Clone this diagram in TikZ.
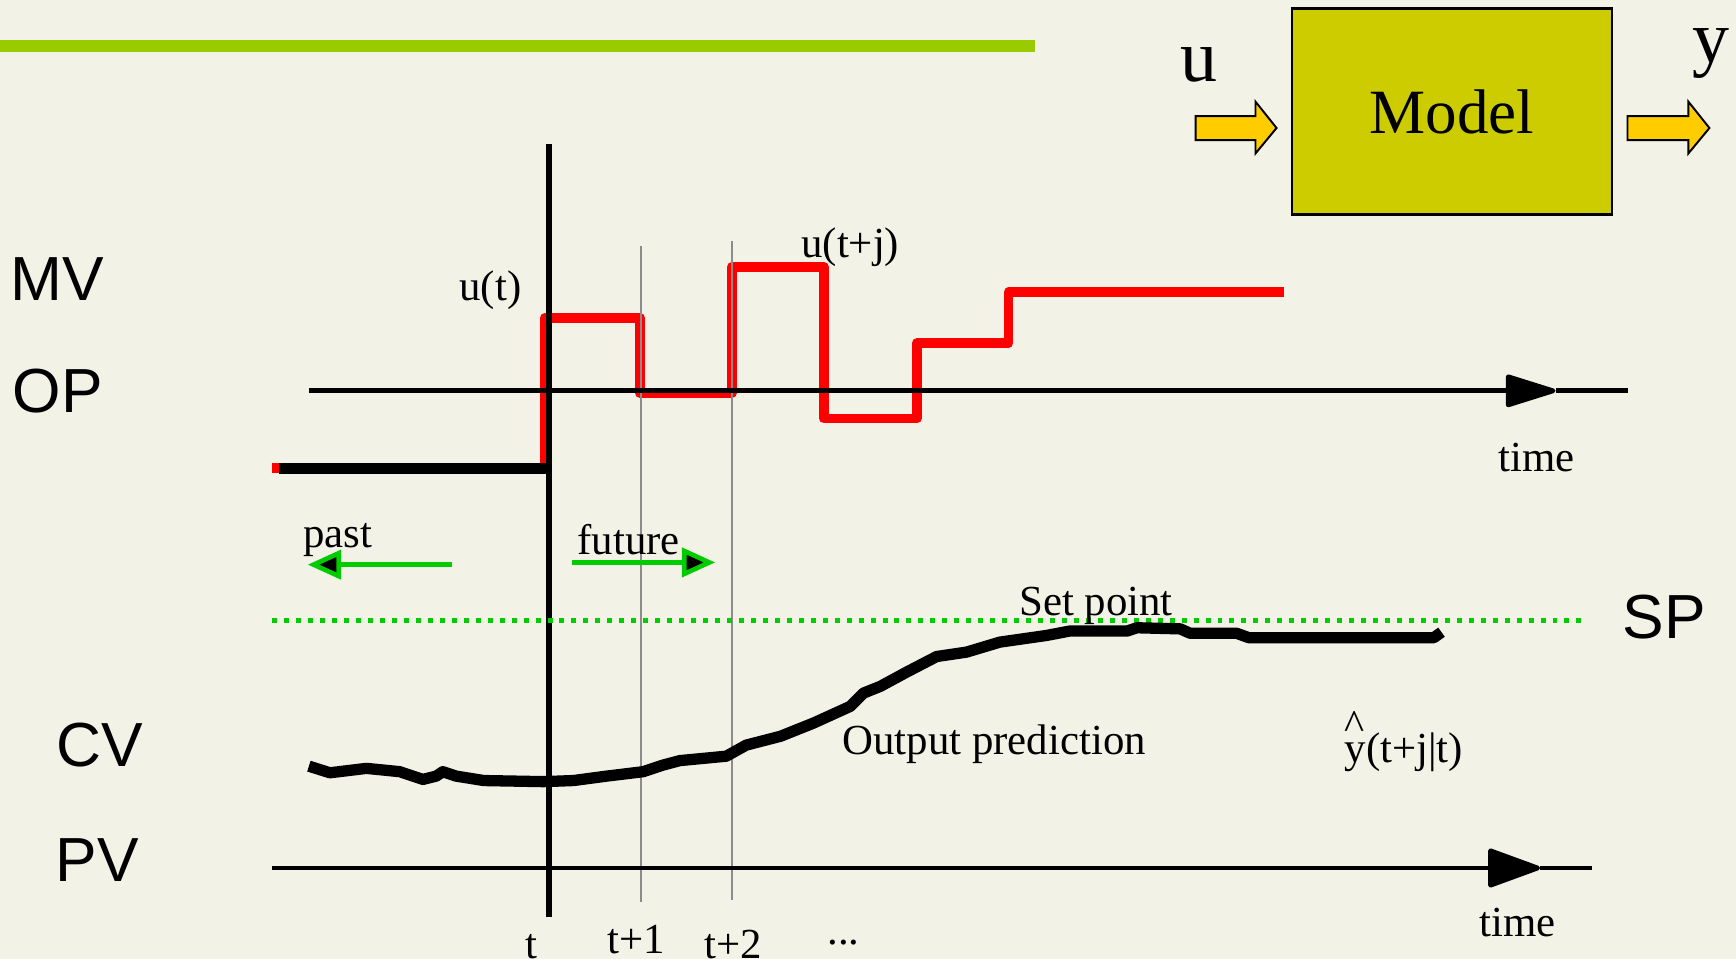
\documentclass[tikz,border=0pt]{standalone}
\usepackage{fontspec}
\setmainfont{Liberation Serif}
\setsansfont{Liberation Sans}
\usetikzlibrary{arrows.meta, positioning}
\definecolor{paperbg}{HTML}{F2F2E6}
\definecolor{barlime}{HTML}{99CC00}
\definecolor{modelfill}{HTML}{CCCC00}
\definecolor{arrowgold}{HTML}{FFCC00}
\definecolor{mvred}{HTML}{FF0000}
\definecolor{spgreen}{HTML}{00CC00}
\definecolor{gridgray}{HTML}{8C8C8C}
\tikzset{
  varlabel/.style={font=\sffamily\fontsize{16}{19}\selectfont, inner sep=0pt},
  txt/.style={font=\fontsize{11}{13}\selectfont, inner sep=0pt},
  sigtxt/.style={font=\fontsize{19}{22}\selectfont, inner sep=0pt},
  modelbox/.style={rectangle, draw=black, line width=0.7pt, fill=modelfill,
    minimum width=2.89cm, minimum height=1.86cm, inner sep=0pt,
    font=\fontsize{16.2}{19}\selectfont},
  blockarrow/.style={draw=black, line width=0.5pt, fill=arrowgold},
  axisline/.style={line width=1.2pt},
  opaxis/.style={axisline, -{Triangle[length=0.5cm, width=0.3cm, round]}},
  pvaxis/.style={axisline, -{Triangle[length=0.51cm, width=0.36cm, round]}},
  tline/.style={line width=1.4pt},
  gridline/.style={gridgray, line width=0.4pt},
  mvline/.style={mvred, line width=2.5pt, line join=round},
  pastbar/.style={black, line width=2.7pt},
  cvline/.style={black, line width=2.9pt, line join=round},
  spline/.style={spgreen, line width=0.45mm, dash pattern=on 0.45mm off 0.63mm},
  timear/.style={spgreen, line width=1.2pt,
    -{Triangle[length=3mm, width=2.6mm, fill=black]}},
}

\begin{document}
\begin{tikzpicture}[x=0.01cm, y=-0.01cm]

  % --- Hintergrund ---
  \fill[paperbg] (0,0) rectangle (1568,866);
  \useasboundingbox (0,0) rectangle (1568,866);
  \draw[barlime, line width=3.1pt] (0,41.5) -- (935,41.5);

  % --- Modellblock ---
  \node[modelbox] (model) at (1311.5,101) {Model};
  \fill[blockarrow] (1080,104.8) -- (1134,104.8) -- (1134,91.8) -- (1153,115.6)
    -- (1134,138.6) -- (1134,126.5) -- (1080,126.5) -- cycle;
  \fill[blockarrow] (1470,104.8) -- (1525,104.8) -- (1525,91.8) -- (1544,115.6)
    -- (1525,138.6) -- (1525,126.5) -- (1470,126.5) -- cycle;
  \node[sigtxt] (ulabel) at (1083,59) {u};
  \node[sigtxt] (ylabel) at (1545,48) {y};

  % --- Stellgroesse (rot) ---
  \draw[mvline] (246,423) -- (492,423) -- (492,287) -- (578,287) -- (578,355)
    -- (661,355) -- (661,241) -- (744,241) -- (744,378) -- (828,378)
    -- (828,310) -- (911,310) -- (911,264) -- (1160,264);
  \draw[pastbar] (252,423) -- (496,423);

  % --- Raster t+1, t+2 ---
  \draw[gridline] (579,222) -- (579,815);
  \draw[gridline] (661,218) -- (661,813);

  % --- Achsen ---
  \coordinate (opstart) at (279,353);
  \coordinate (optip)   at (1405,353);
  \coordinate (opend)   at (1470,353);
  \draw[opaxis] (opstart) -- (optip);
  \draw[axisline] (optip) -- (opend);
  \coordinate (pvstart) at (246,784);
  \coordinate (pvtip)   at (1391,784);
  \coordinate (pvend)   at (1438,784);
  \draw[pvaxis] (pvstart) -- (pvtip);
  \draw[axisline] (pvtip) -- (pvend);
  \draw[tline] (496,130) -- (496,828);

  % --- Sollwert ---
  \draw[spline] (246,560) -- (1432,560);

  % --- Vergangenheit / Zukunft ---
  \coordinate (pastfrom)   at (408,510);
  \coordinate (pastto)     at (278,510);
  \coordinate (futurefrom) at (517,508);
  \coordinate (futureto)   at (646,508);
  \draw[timear] (pastfrom) -- (pastto);
  \draw[timear] (futurefrom) -- (futureto);

  % --- Ausgangsvorhersage ---
  \draw[cvline] (279,692) -- (298,698) -- (331,694) -- (361,697) -- (382,704)
    -- (394,701) -- (400,697) -- (412,701) -- (437,705) -- (491,706)
    -- (518,705) -- (548,701) -- (581,697) -- (599,691) -- (614,687)
    -- (656,683) -- (674,673) -- (705,665) -- (735,653) -- (768,638)
    -- (780,626) -- (795,620) -- (819,607) -- (846,593) -- (873,589)
    -- (903,580) -- (945,574) -- (966,570) -- (1018,570) -- (1027,567)
    -- (1066,568) -- (1075,572) -- (1117,572) -- (1128,576) -- (1295,576)
    -- (1302,571);

  % --- Beschriftungen ---
  \node[varlabel] (mv) at (52,252) {MV};
  \node[varlabel] (op) at (52,353) {OP};
  \node[varlabel] (cv) at (90,673) {CV};
  \node[varlabel] (pv) at (88,777) {PV};
  \node[varlabel] (sp) at (1503,557) {SP};

  \node[txt] (ut)      at (443,262) {u(t)};
  \node[txt] (utj)     at (768,223) {u(t+j)};
  \node[txt] (timeop)  at (1388,413) {time};
  \node[txt] (timepv)  at (1371,833) {time};
  \node[txt] (past)    at (305,488) {past};
  \node[txt] (future)  at (568,487) {future};
  \node[txt] (setpt)   at (990,547) {Set point};
  \node[txt] (outpred) at (898,672) {Output prediction};
  \node[txt] (yhat)    at (1268,670)
    {\rlap{\raisebox{0.55em}{\textasciicircum}}y(t+j|t)};

  \node[txt, anchor=base] (tk0) at (480,866) {t};
  \node[txt, anchor=base] (tk1) at (575,861) {t+1};
  \node[txt, anchor=base] (tk2) at (662,866) {t+2};
  \node[txt, anchor=base] (tk3) at (762,853) {...};

\end{tikzpicture}
\end{document}
